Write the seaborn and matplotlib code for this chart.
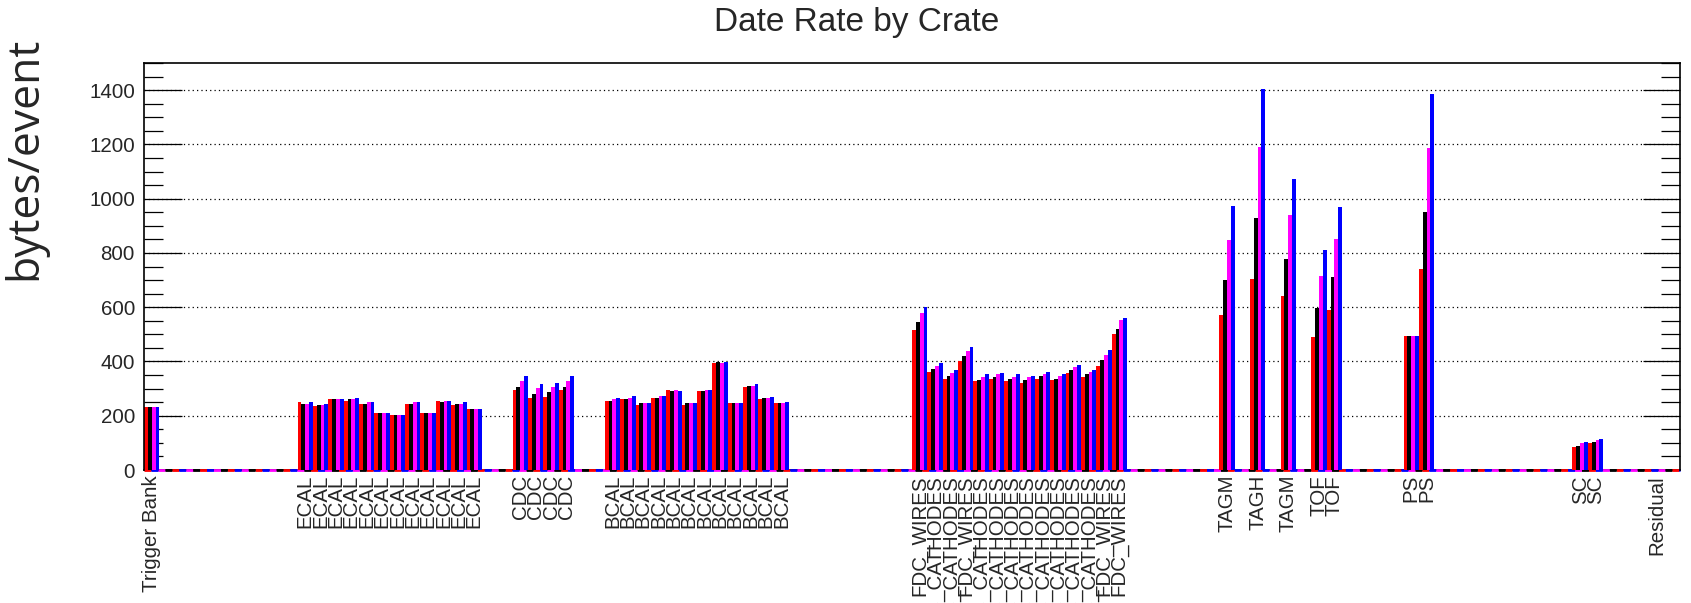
import numpy as np
import pandas as pd
import matplotlib
matplotlib.use("Agg")
import matplotlib.pyplot as plt
import seaborn as sns
from matplotlib.ticker import MultipleLocator

# ==============================
# DATA (bytes/event per crate bin)
# ==============================

n_bins = 100

crate_bins = [0,
              10, 11, 12, 13, 14, 15, 16, 17, 18, 19, 20, 21,
              24, 25, 26, 27,
              30, 31, 32, 33, 34, 35, 36, 37, 38, 39, 40, 41,
              50, 51, 52, 53, 54, 55, 56, 57, 58, 59, 60, 61, 62, 63,
              70, 72, 74, 76, 77,
              82, 83,
              93, 94,
              98]

crate_labels = (["Trigger Bank"]
                + ["ECAL"] * 12
                + ["CDC"] * 4
                + ["BCAL"] * 12
                + ["FDC_WIRES", "FDC_CATHODES", "FDC_CATHODES", "FDC_WIRES"]
                + ["FDC_CATHODES"] * 8
                + ["FDC_WIRES", "FDC_WIRES"]
                + ["TAGM", "TAGH", "TAGM", "TOF", "TOF"]
                + ["PS", "PS"]
                + ["SC", "SC"]
                + ["Residual"])

red_vals = ([232]
            + [250, 235, 260, 255, 245, 209, 204, 245, 209, 255, 240, 224]
            + [293, 265, 270, 293]
            + [256, 262, 240, 265, 296, 240, 291, 394, 246, 306, 260, 246]
            + [516, 363, 337, 402, 327, 337, 327, 322, 337, 332, 358, 343, 383, 500]
            + [572, 705, 640, 489, 590]
            + [494, 739]
            + [84, 100]
            + [0])

black_vals = ([232]
              + [245, 240, 260, 260, 245, 209, 204, 245, 209, 250, 245, 224]
              + [307, 280, 286, 307]
              + [256, 262, 246, 265, 291, 246, 291, 399, 246, 311, 265, 246]
              + [547, 373, 348, 419, 332, 343, 337, 332, 348, 337, 368, 353, 404, 521]
              + [699, 927, 776, 596, 710]
              + [494, 951]
              + [88, 105]
              + [0])

magenta_vals = ([232]
                + [245, 240, 260, 260, 250, 209, 204, 250, 209, 255, 245, 224]
                + [327, 302, 307, 327]
                + [262, 267, 246, 272, 296, 246, 296, 394, 246, 311, 265, 246]
                + [578, 383, 358, 440, 343, 353, 343, 343, 353, 348, 378, 363, 423, 552]
                + [847, 1190, 940, 716, 853]
                + [494, 1188]
                + [100, 110]
                + [0])

blue_vals = ([232]
             + [250, 245, 260, 264, 250, 209, 204, 250, 209, 255, 250, 224]
             + [347, 317, 322, 347]
             + [267, 272, 246, 272, 291, 246, 296, 399, 246, 316, 270, 251]
             + [601, 393, 368, 454, 353, 358, 353, 348, 363, 353, 388, 368, 444, 562]
             + [974, 1405, 1071, 812, 969]
             + [494, 1386]
             + [105, 115]
             + [0])

series_names = ["run1", "run2", "run3", "run4"]
series_colors = ["#ff0000", "#000000", "#ff00ff", "#0000ff"]

# ==============================
# BUILD HISTOGRAM TABLE
# ==============================

tick_labels = [""] * n_bins
for b, lab in zip(crate_bins, crate_labels):
    tick_labels[b] = lab

frames = []
for name, vals in zip(series_names, [red_vals, black_vals, magenta_vals, blue_vals]):
    h = np.zeros(n_bins)
    h[crate_bins] = vals
    frames.append(pd.DataFrame({"bin": np.arange(n_bins), "series": name, "rate": h}))
df = pd.concat(frames, ignore_index=True)

# ==============================
# PLOT
# ==============================

sns.set_style("white")
plt.rcParams["font.family"] = ["Liberation Sans", "DejaVu Sans"]

fig = plt.figure(figsize=(16.91, 6.03), dpi=100)
ax = fig.add_axes([144 / 1691, 1 - 470 / 603, 1536 / 1691, 407 / 603])

sns.barplot(data=df, x="bin", y="rate", hue="series",
            order=list(range(n_bins)), hue_order=series_names,
            palette=series_colors, width=1.0, gap=0, dodge=True,
            saturation=1, errorbar=None, linewidth=0, legend=False, ax=ax)

# zero level of the empty bins (dashed outlines of the four histograms)
for i, c in enumerate(series_colors):
    ax.axhline(0, color=c, lw=2, linestyle=(i * 2.5, (2.5, 7.5)),
               zorder=0.8, clip_on=False)

ax.set_xlim(-0.5, n_bins - 0.5)
ax.set_ylim(0, 1500)

ax.set_xticks(range(n_bins))
ax.set_xticklabels(tick_labels, rotation=90, ha="center", va="top")
ax.tick_params(axis="x", length=0, pad=3.6, labelsize=14.8)

ax.yaxis.set_major_locator(MultipleLocator(200))
ax.yaxis.set_minor_locator(MultipleLocator(50))
ax.tick_params(axis="y", which="major", direction="in", length=27, width=0.9,
               left=True, right=True, labelsize=14.8, pad=6.5, color="black")
ax.tick_params(axis="y", which="minor", direction="in", length=13.5, width=0.9,
               left=True, right=True, color="black")

ax.set_axisbelow(True)
ax.yaxis.grid(True, which="major", color="black", lw=0.9, linestyle=(0, (1, 2.5)))
ax.xaxis.grid(False)

for s in ax.spines.values():
    s.set_visible(True)
    s.set_color("black")
    s.set_linewidth(1.2)
ax.spines["bottom"].set_zorder(0.5)

ax.set_xlabel("")
ax.set_ylabel("")

fig.text(857 / 1691, 1 - 22 / 603, "Date Rate by Crate", ha="center", va="center",
         fontsize=24)
fig.text(25 / 1691, 1 - 158 / 603, "bytes/event", rotation=90, ha="center",
         va="center", fontsize=32, family=["Open Sans", "DejaVu Sans"])

fig.savefig("out.png", dpi=100)
